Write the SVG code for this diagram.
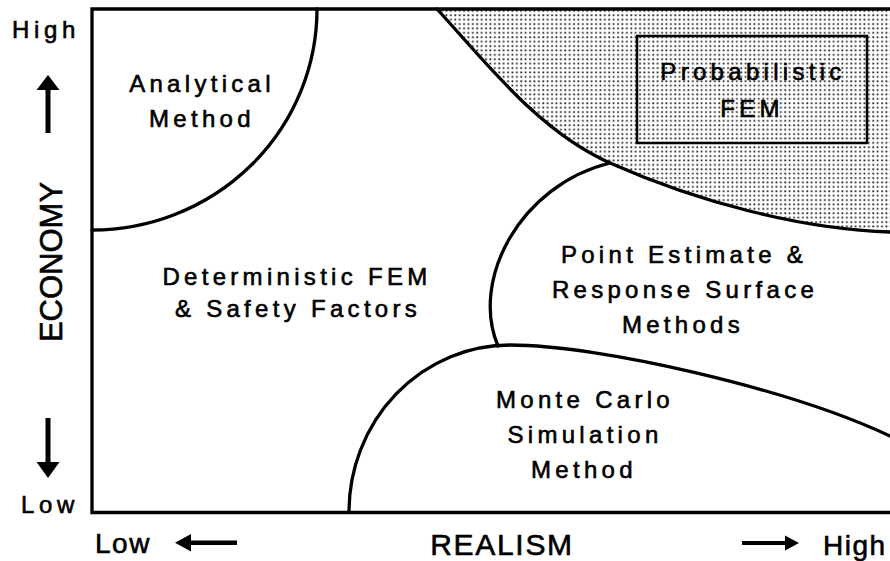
<svg xmlns="http://www.w3.org/2000/svg" width="890" height="561" viewBox="0 0 890 561">
  <style>
    text { font-family: "Liberation Sans", Arial, sans-serif; fill: #000; stroke: #000; stroke-width: 0.6px; }
    .lbl { font-size: 24px; letter-spacing: 4.3px; text-anchor: middle; }
    .axis { font-size: 24px; letter-spacing: 4.6px; text-anchor: middle; }
    .big { font-size: 28px; letter-spacing: 1.5px; }
    .line { fill: none; stroke: #000; stroke-width: 3.3; stroke-linecap: round; }
    .arrow { fill: #000; stroke: none; }
  </style>
  <defs>
    <pattern id="stipple" width="4.4" height="4.4" patternUnits="userSpaceOnUse">
      <rect x="1.2" y="1.2" width="1.7" height="1.7" fill="#111"/>
    </pattern>
  </defs>

  <rect width="890" height="561" fill="#fff"/>

  <!-- shaded region: probabilistic FEM -->
  <g id="probabilistic">
    <path d="M437,9 C489,66 540,132 610,163 C698,202 800,229 890,232 L890,9 Z" fill="url(#stipple)"/>
    <path class="line" d="M437,9 C489,66 540,132 610,163 C698,202 800,229 890,232"/>
    <rect x="637" y="36" width="230" height="107" fill="none" stroke="#000" stroke-width="2.5"/>
    <text class="lbl" x="753" y="80">Probabilistic</text>
    <text class="lbl" x="752" y="117">FEM</text>
  </g>

  <!-- plot frame -->
  <g id="frame">
    <path class="line" d="M890,9 L92,9 L92,512.5 L890,512.5" stroke-linecap="butt"/>
  </g>

  <g id="analytical">
    <path class="line" d="M92,230 A225,221 0 0,0 317,9"/>
    <text class="lbl" x="202" y="92">Analytical</text>
    <text class="lbl" x="202" y="127">Method</text>
  </g>

  <g id="deterministic">
    <text class="lbl" x="297" y="285">Deterministic FEM</text>
    <text class="lbl" x="298" y="317">&amp; Safety Factors</text>
  </g>

  <g id="point-estimate">
    <path class="line" d="M610,163 C520,185 470,280 498,346"/>
    <text class="lbl" x="684" y="263">Point Estimate &amp;</text>
    <text class="lbl" x="685" y="298">Response Surface</text>
    <text class="lbl" x="683" y="333">Methods</text>
  </g>

  <g id="monte-carlo">
    <path class="line" d="M349,512 A161,167 0 0,1 510,345 C600,345 790,389 890,436"/>
    <text class="lbl" x="585" y="408">Monte Carlo</text>
    <text class="lbl" x="585" y="443">Simulation</text>
    <text class="lbl" x="584" y="478">Method</text>
  </g>

  <!-- axis labels and direction arrows -->
  <g id="axis-labels">
    <text class="axis" x="46" y="38">High</text>
    <text class="axis" x="50" y="513">Low</text>
    <text font-size="31" text-anchor="middle" transform="translate(62,262) rotate(-90)">ECONOMY</text>
    <rect class="arrow" x="45.5" y="88" width="5" height="45"/>
    <polygon class="arrow" points="48,75 59.5,90 36.5,90"/>
    <rect class="arrow" x="45.5" y="418" width="5" height="46"/>
    <polygon class="arrow" points="48,478 59.5,462 36.5,462"/>

    <text class="big" x="95" y="553">Low</text>
    <rect class="arrow" x="188" y="540.5" width="49" height="4.5"/>
    <polygon class="arrow" points="175,542.8 191,534 191,551.5"/>
    <text font-size="30" letter-spacing="1.7" text-anchor="middle" x="502" y="555">REALISM</text>
    <rect class="arrow" x="742" y="541" width="46" height="4"/>
    <polygon class="arrow" points="799,543 785,535.5 785,550.5"/>
    <text class="big" x="823" y="555" letter-spacing="0.5">High</text>
  </g>
</svg>
